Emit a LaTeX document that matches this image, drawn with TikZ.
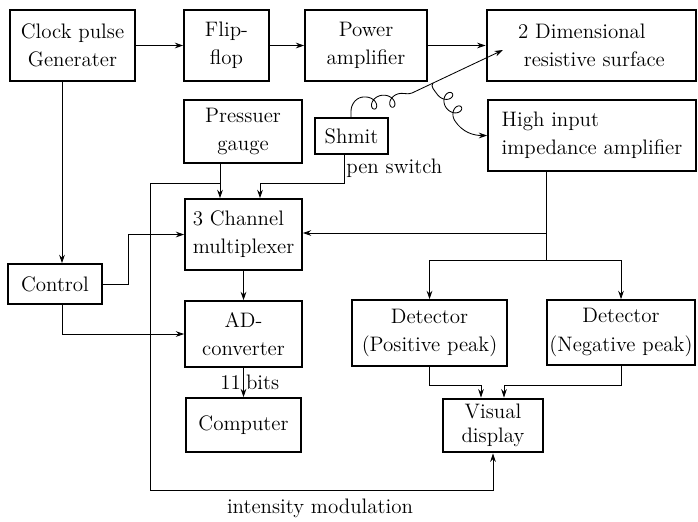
\documentclass[tikz,border=0pt]{standalone}
\usetikzlibrary{arrows.meta}
\begin{document}
\begin{tikzpicture}[x=0.025cm, y=-0.025cm,
    >={Stealth[length=6pt,width=4pt]},
    box/.style 2 args={draw, line width=1.1pt, minimum width=#1*0.025cm,
        minimum height=#2*0.025cm, inner xsep=0.5pt, inner ysep=1pt,
        font=\fontsize{14.9}{20}\selectfont, align=center},
    heavy/.style={line width=2pt},
    wire/.style={semithick},
    lbl/.style={font=\fontsize{14.9}{18}\selectfont, inner sep=1.5pt}]

    \useasboundingbox (0,0) rectangle (698,521);

    % Blocks
    \node[box={125}{71}] (clk) at (72.5,45.5) {Clock pulse\\Generater};
    \node[box={85}{71}] (flip) at (226.5,45.5) {Flip-\\flop};
    \node[box={122}{71}] (power) at (366,45.5) {Power\\amplifier};
    \node[box={209}{71}, heavy, align=left] (surf) at (591.5,45.5) {2 Dimensional\\\hspace{4pt}resistive surface};
    \node[box={118}{63}] (gauge) at (243,131.5) {Pressuer\\gauge};
    \node[box={73}{36}] (shmit) at (351.5,136) {Shmit};
    \node[box={208}{71}, align=left] (hiia) at (592,135.5) {High input\\impedance amplifier};
    \node[box={117}{71}, align=left] (mux) at (243.5,234.5) {3 Channel\\multiplexer};
    \node[box={94}{40}] (ctrl) at (55,284) {Control};
    \node[box={117}{66}] (adc) at (243.5,334) {AD-\\converter};
    \node[box={115}{54}] (comp) at (243.5,425) {Computer};
    \node[box={155}{66}] (detp) at (429.5,333) {Detector\\(Positive peak)};
    \node[box={148}{65}] (detn) at (621,332.5) {Detector\\(Negative peak)};
    \node[box={100}{53}, heavy, font=\fontsize{14.9}{17}\selectfont] (vis) at (493,425.5) {Visual\\display};

    % Texts
    \node[lbl, anchor=west] (pensw) at (344,168) {pen switch};
    \node[lbl] (imod) at (320,508) {intensity modulation};

    % Top row
    \draw[wire,->] (clk) -- (flip);
    \draw[wire,->] (flip) -- (power);
    \draw[wire,->] (power) -- (surf);

    % Control lines
    \coordinate (ctrlx) at (62,0);
    \draw[wire,->] (clk.south -| ctrlx) -- (ctrl.north -| ctrlx);
    \draw[wire,->] (ctrl.east) -- ++(26,0) |- (mux.west);
    \draw[wire,->] (ctrl.south -| ctrlx) |- (adc.west);

    % Multiplexer inputs
    \coordinate (gaugex) at (220,183);
    \coordinate (penx) at (344,183);
    \coordinate (peny) at (260,183);
    \draw[wire,->] (gauge.south -| gaugex) -- (mux.north -| gaugex);
    \draw[wire,->] (shmit.south -| penx) -- (penx) -- (peny) -- (mux.north -| peny);
    \draw[wire,->] (mux.south) -- (adc.north);
    \draw[wire,->] (adc.south) -- node[lbl, left] (nbits) {11} node[lbl, right] (bits) {bits} (comp.north);

    % Amplifier to detectors
    \coordinate (split) at (546,233);
    \coordinate (fork) at (546,260);
    \draw[wire] (hiia.south -| split) -- (fork);
    \draw[wire,->] (split) -- (mux.east |- split);
    \draw[wire,->] (fork) -| (detp.north);
    \draw[wire,->] (fork) -| (detn.north);

    % Detectors to display
    \coordinate (visl) at (481,385);
    \coordinate (visr) at (504,385);
    \draw[wire,->] (detp.south) |- (visl) -- (vis.north -| visl);
    \draw[wire,->] (detn.south) |- (visr) -- (vis.north -| visr);

    % Intensity modulation
    \coordinate (modl) at (150,490);
    \draw[wire,->] (gaugex) -| (modl) -| (vis.south);

    % Pen and leads
    \coordinate (penbase) at (412,93);
    \coordinate (pentip) at (503,50);
    \coordinate (lead) at (433,83);
    \coordinate (shmitx) at (351,0);
    \coordinate (coila) at (365,97);
    \coordinate (coilb) at (437,94);
    \draw[wire,->] (penbase) -- (pentip);
    \draw[wire] (shmit.north -| shmitx) -- ++(0,-6) to[out=90,in=175] (coila)
        -- plot[domain=0:720, samples=90, variable=\t]
            ({365 + 2.9*\t*pi/180 + 6.5*sin(\t)}, {97 - 0.1*\t*pi/180*2.9 + 6.5*(1-cos(\t))})
        to[out=0,in=200] (penbase);
    \draw[wire,->] (lead) to[out=-130,in=124] (coilb)
        -- plot[domain=0:720, samples=90, variable=\t]
            ({437 + 0.555*(2.58*\t*pi/180 + 6.5*sin(\t)) + 0.833*6.5*(1-cos(\t))},
             {94 + 0.833*(2.58*\t*pi/180 + 6.5*sin(\t)) - 0.555*6.5*(1-cos(\t))})
        to[out=-56,in=180] (hiia.west);

\end{tikzpicture}
\end{document}
